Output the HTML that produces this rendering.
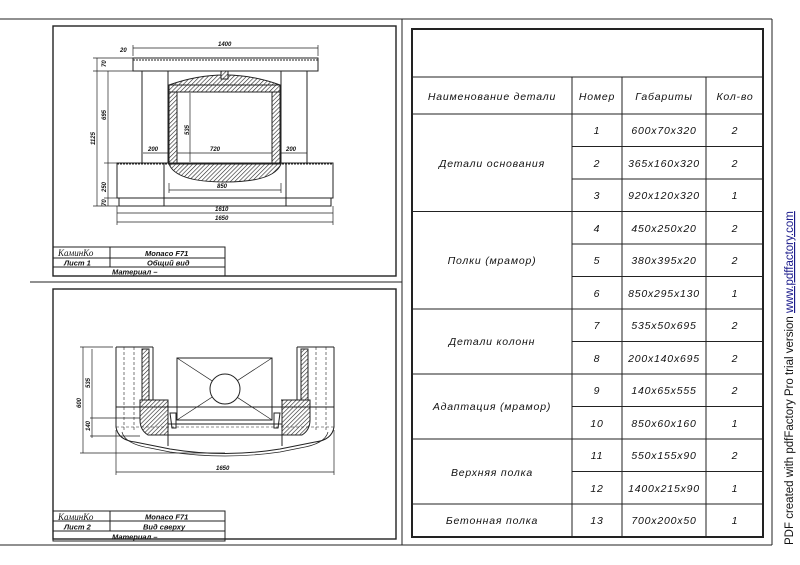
<!DOCTYPE html>
<html><head><meta charset="utf-8"><style>
html,body{margin:0;padding:0;background:#fff;width:800px;height:565px;overflow:hidden}
svg{display:block}
.t{font-family:"Liberation Sans",sans-serif;font-style:italic;font-size:10.5px;fill:#111;letter-spacing:0.8px}
.d{font-family:"Liberation Sans",sans-serif;font-style:italic;font-weight:bold;font-size:6px;fill:#111}
.tb{font-family:"Liberation Sans",sans-serif;font-style:italic;font-weight:bold;font-size:7.5px;fill:#111}
</style></head><body>
<svg width="800" height="565" viewBox="0 0 800 565" xmlns="http://www.w3.org/2000/svg">
<defs>
<pattern id="h" width="3" height="3" patternUnits="userSpaceOnUse" patternTransform="rotate(45)">
<rect width="3" height="3" fill="#fff"/><line x1="0" y1="0" x2="0" y2="3" stroke="#222" stroke-width="1.2"/></pattern>
</defs>
<g stroke="#222" fill="none" stroke-width="1">
<!-- sheet lines -->
<line x1="0" y1="19" x2="772" y2="19"/>
<line x1="0" y1="545" x2="772" y2="545"/>
<line x1="772" y1="19" x2="772" y2="545"/>
<line x1="402" y1="19" x2="402" y2="545"/>
<line x1="30" y1="282" x2="402" y2="282"/>
<rect x="53" y="26" width="343" height="250" stroke-width="1.4"/>
<rect x="53" y="289" width="343" height="250" stroke-width="1.4"/>
<!-- table -->
<rect x="412" y="29" width="351" height="508" stroke-width="2"/>
<line x1="412" y1="77" x2="763" y2="77"/>
<line x1="412" y1="114" x2="763" y2="114"/>
<line x1="572" y1="77" x2="572" y2="537"/>
<line x1="622" y1="77" x2="622" y2="537"/>
<line x1="706" y1="77" x2="706" y2="537"/>
<line x1="572" y1="146.5" x2="763" y2="146.5"/>
<line x1="572" y1="179" x2="763" y2="179"/>
<line x1="412" y1="211.5" x2="763" y2="211.5"/>
<line x1="572" y1="244" x2="763" y2="244"/>
<line x1="572" y1="276.5" x2="763" y2="276.5"/>
<line x1="412" y1="309" x2="763" y2="309"/>
<line x1="572" y1="341.5" x2="763" y2="341.5"/>
<line x1="412" y1="374" x2="763" y2="374"/>
<line x1="572" y1="406.5" x2="763" y2="406.5"/>
<line x1="412" y1="439" x2="763" y2="439"/>
<line x1="572" y1="471.5" x2="763" y2="471.5"/>
<line x1="412" y1="504" x2="763" y2="504"/>

<!-- drawing 1 -->
<rect x="133" y="58" width="185" height="13"/>
<line x1="133" y1="60" x2="318" y2="60" stroke-dasharray="2,1"/>
<line x1="133" y1="48" x2="318" y2="48" stroke-width="0.7"/>
<line x1="133" y1="45" x2="133" y2="56" stroke-width="0.7"/>
<line x1="318" y1="45" x2="318" y2="56" stroke-width="0.7"/>
<rect x="142" y="71" width="26" height="92"/>
<rect x="281" y="71" width="26" height="92"/>
<line x1="168" y1="71" x2="281" y2="71"/>
<path d="M169 85 Q225 65 280 85 Z" fill="url(#h)"/>
<rect x="221" y="71" width="7" height="8" fill="url(#h)"/>
<rect x="169" y="85" width="111" height="7" fill="url(#h)"/>
<rect x="169" y="92" width="8" height="72" fill="url(#h)"/>
<rect x="272" y="92" width="8" height="72" fill="url(#h)"/>
<path d="M169 164 L281 164 Q274 182 225 182 Q176 182 169 164 Z" fill="url(#h)"/>
<rect x="117" y="163" width="216" height="35"/>
<line x1="117" y1="164" x2="333" y2="164" stroke-dasharray="2,1"/>
<line x1="164" y1="163" x2="164" y2="206"/>
<line x1="286" y1="163" x2="286" y2="206"/>
<rect x="119" y="198" width="212" height="8"/>
<line x1="117" y1="213" x2="333" y2="213" stroke-width="0.7"/>
<line x1="117" y1="222" x2="333" y2="222" stroke-width="0.7"/>
<line x1="117" y1="206" x2="117" y2="225" stroke-width="0.7"/>
<line x1="333" y1="206" x2="333" y2="225" stroke-width="0.7"/>
<line x1="97" y1="58" x2="97" y2="206" stroke-width="0.7"/>
<line x1="108" y1="71" x2="108" y2="163" stroke-width="0.7"/>
<line x1="108" y1="163" x2="108" y2="206" stroke-width="0.7"/>
<line x1="93" y1="58" x2="133" y2="58" stroke-width="0.7"/>
<line x1="93" y1="71" x2="142" y2="71" stroke-width="0.7"/>
<line x1="93" y1="206" x2="119" y2="206" stroke-width="0.7"/>
<line x1="104" y1="163" x2="117" y2="163" stroke-width="0.7"/>
<line x1="104" y1="198" x2="117" y2="198" stroke-width="0.7"/>
<line x1="190" y1="93" x2="190" y2="162" stroke-width="0.7"/>
<line x1="177" y1="153" x2="272" y2="153" stroke-width="0.7"/>
<line x1="143" y1="153" x2="168" y2="153" stroke-width="0.7"/>
<line x1="281" y1="153" x2="307" y2="153" stroke-width="0.7"/>
<line x1="169" y1="190" x2="281" y2="190" stroke-width="0.7"/>
<line x1="169" y1="183" x2="169" y2="193" stroke-width="0.7"/>
<line x1="281" y1="183" x2="281" y2="193" stroke-width="0.7"/>
<!-- title block 1 -->
<rect x="53" y="247" width="172" height="29"/>
<line x1="53" y1="258" x2="225" y2="258"/>
<line x1="53" y1="267" x2="225" y2="267"/>
<line x1="110" y1="247" x2="110" y2="267"/>

<!-- drawing 2 -->
<path d="M116 347 L116 427 Q118 440 135 442 L170 449 Q225 458 280 449 L315 442 Q332 440 334 427 L334 347"/>
<path d="M153 347 L153 400 L168 400"/>
<path d="M297 347 L297 400 L281 400"/>
<line x1="116" y1="347" x2="153" y2="347"/>
<line x1="297" y1="347" x2="334" y2="347"/>
<rect x="142" y="349" width="7" height="51" fill="url(#h)"/>
<rect x="301" y="349" width="7" height="51" fill="url(#h)"/>
<path d="M140 400 L168 400 L168 435 L148 435 Q140 430 140 420 Z" fill="url(#h)"/>
<path d="M310 400 L282 400 L282 435 L302 435 Q310 430 310 420 Z" fill="url(#h)"/>
<line x1="124" y1="347" x2="124" y2="430" stroke-dasharray="3,2" stroke-width="0.6"/>
<line x1="134" y1="347" x2="134" y2="430" stroke-dasharray="3,2" stroke-width="0.6"/>
<line x1="316" y1="347" x2="316" y2="430" stroke-dasharray="3,2" stroke-width="0.6"/>
<line x1="326" y1="347" x2="326" y2="430" stroke-dasharray="3,2" stroke-width="0.6"/>
<line x1="116" y1="407" x2="334" y2="407"/>
<line x1="116" y1="427" x2="334" y2="427" stroke-dasharray="3,2" stroke-width="0.6"/>
<rect x="177" y="358" width="95" height="62"/>
<line x1="177" y1="358" x2="272" y2="420" stroke-width="0.7"/>
<line x1="272" y1="358" x2="177" y2="420" stroke-width="0.7"/>
<circle cx="225" cy="389" r="15" fill="#fff"/>
<path d="M170 413 L176 413 L176 428 L172 428 Z"/>
<path d="M280 413 L274 413 L274 428 L278 428 Z"/>
<line x1="168" y1="435" x2="282" y2="435"/>
<line x1="168" y1="424" x2="282" y2="424"/>
<line x1="168" y1="435" x2="168" y2="446"/>
<line x1="282" y1="435" x2="282" y2="446"/>
<path d="M122 432 Q125 444 150 448 L170 452 Q225 460 280 452 L300 448 Q325 444 328 432" stroke-width="0.7"/>
<line x1="83" y1="347" x2="83" y2="453" stroke-width="0.7"/>
<line x1="92" y1="349" x2="92" y2="415" stroke-width="0.7"/>
<line x1="92" y1="415" x2="92" y2="438" stroke-width="0.7"/>
<line x1="80" y1="347" x2="113" y2="347" stroke-width="0.7"/>
<line x1="80" y1="453" x2="225" y2="453" stroke-width="0.7"/>
<line x1="90" y1="418" x2="140" y2="418" stroke-width="0.7"/>
<line x1="90" y1="436" x2="140" y2="436" stroke-width="0.7"/>
<line x1="116" y1="472" x2="334" y2="472" stroke-width="0.7"/>
<line x1="116" y1="430" x2="116" y2="475" stroke-width="0.7"/>
<line x1="334" y1="430" x2="334" y2="475" stroke-width="0.7"/>
<!-- title block 2 -->
<rect x="53" y="511" width="172" height="30"/>
<line x1="53" y1="521" x2="225" y2="521"/>
<line x1="53" y1="531" x2="225" y2="531"/>
<line x1="110" y1="511" x2="110" y2="531"/>
</g>

<!-- drawing labels -->
<text class="d" x="218" y="46">1400</text>
<text class="d" x="120" y="52">20</text>
<text class="d" x="210" y="151">720</text>
<text class="d" x="148" y="151">200</text>
<text class="d" x="286" y="151">200</text>
<text class="d" x="217" y="188">850</text>
<text class="d" x="215" y="211">1610</text>
<text class="d" x="215" y="220">1650</text>
<text class="d" x="216" y="470">1650</text>
<g class="d">
<text transform="translate(95,145) rotate(-90)">1125</text>
<text transform="translate(106,120) rotate(-90)">695</text>
<text transform="translate(106,67) rotate(-90)">70</text>
<text transform="translate(106,192) rotate(-90)">250</text>
<text transform="translate(106,206) rotate(-90)">70</text>
<text transform="translate(189,135) rotate(-90)">535</text>
<text transform="translate(81,408) rotate(-90)">600</text>
<text transform="translate(90,388) rotate(-90)">535</text>
<text transform="translate(90,431) rotate(-90)">140</text>
</g>
<text x="58" y="256" font-family="Liberation Serif,serif" font-style="italic" font-size="9" fill="#111">КаминКо</text>
<text class="tb" x="145" y="256">Monaco F71</text>
<text class="tb" x="64" y="265.5">Лист 1</text>
<text class="tb" x="147" y="265.5">Общий вид</text>
<text class="tb" x="112" y="274.5">Материал –</text>
<text x="58" y="520" font-family="Liberation Serif,serif" font-style="italic" font-size="9" fill="#111">КаминКо</text>
<text class="tb" x="145" y="519.5">Monaco F71</text>
<text class="tb" x="64" y="529.5">Лист 2</text>
<text class="tb" x="143" y="529.5">Вид сверху</text>
<text class="tb" x="112" y="539.5">Материал –</text>

<!-- table text -->
<g class="t" text-anchor="middle">
<text x="492" y="100">Наименование детали</text>
<text x="597" y="100">Номер</text>
<text x="664" y="100">Габариты</text>
<text x="735" y="100">Кол-во</text>
<text x="492" y="167">Детали основания</text>
<text x="492" y="264">Полки (мрамор)</text>
<text x="492" y="345">Детали колонн</text>
<text x="492" y="410">Адаптация (мрамор)</text>
<text x="492" y="476">Верхняя полка</text>
<text x="492" y="524">Бетонная полка</text>
<text x="597" y="134">1</text><text x="664" y="134">600x70x320</text><text x="735" y="134">2</text>
<text x="597" y="167">2</text><text x="664" y="167">365x160x320</text><text x="735" y="167">2</text>
<text x="597" y="199">3</text><text x="664" y="199">920x120x320</text><text x="735" y="199">1</text>
<text x="597" y="232">4</text><text x="664" y="232">450x250x20</text><text x="735" y="232">2</text>
<text x="597" y="264">5</text><text x="664" y="264">380x395x20</text><text x="735" y="264">2</text>
<text x="597" y="297">6</text><text x="664" y="297">850x295x130</text><text x="735" y="297">1</text>
<text x="597" y="329">7</text><text x="664" y="329">535x50x695</text><text x="735" y="329">2</text>
<text x="597" y="362">8</text><text x="664" y="362">200x140x695</text><text x="735" y="362">2</text>
<text x="597" y="394">9</text><text x="664" y="394">140x65x555</text><text x="735" y="394">2</text>
<text x="597" y="427">10</text><text x="664" y="427">850x60x160</text><text x="735" y="427">1</text>
<text x="597" y="459">11</text><text x="664" y="459">550x155x90</text><text x="735" y="459">2</text>
<text x="597" y="492">12</text><text x="664" y="492">1400x215x90</text><text x="735" y="492">1</text>
<text x="597" y="524">13</text><text x="664" y="524">700x200x50</text><text x="735" y="524">1</text>
</g>
<text transform="translate(793,545) rotate(-90)" font-family="Liberation Sans,sans-serif" font-size="11.5" fill="#111">PDF created with pdfFactory Pro trial version <tspan fill="#1a1a8a" text-decoration="underline">www.pdffactory.com</tspan></text>
</svg>
</body></html>
